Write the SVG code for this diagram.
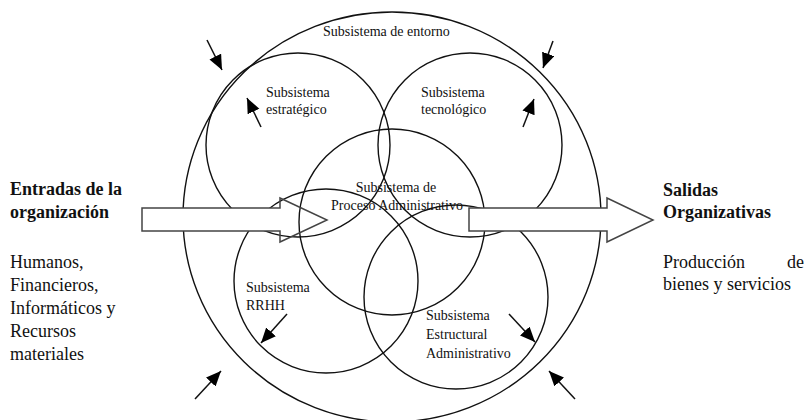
<svg xmlns="http://www.w3.org/2000/svg" width="805" height="420" viewBox="0 0 805 420">
<defs>
<style>
.c{fill:none;stroke:#111;stroke-width:1.4}
.t{font-family:"Liberation Serif","Times New Roman",serif;font-size:14px;fill:#111}
.L{font-family:"Liberation Serif","Times New Roman",serif;font-size:18px;fill:#111}
.b{font-weight:bold}
.a{stroke:#111;stroke-width:1.5;fill:none;marker-end:url(#ah)}
.big{fill:none;stroke:#444;stroke-width:1.5}
</style>
<marker id="ah" markerUnits="userSpaceOnUse" markerWidth="16" markerHeight="14" refX="15" refY="6.5" orient="auto">
<path d="M0,0 L15,6.5 L0,13 z" fill="#000"/>
</marker>
</defs>
<rect width="805" height="420" fill="#fff"/>
<g id="entorno"><ellipse class="c" cx="392" cy="217" rx="209" ry="205"/><text class="t" x="323" y="36">Subsistema de entorno</text></g>
<g id="estrategico"><circle class="c" cx="298" cy="145" r="92"/><text class="t" x="266" y="97">Subsistema</text><text class="t" x="266" y="114">estratégico</text></g>
<g id="tecnologico"><circle class="c" cx="470" cy="145" r="92"/><text class="t" x="421" y="97">Subsistema</text><text class="t" x="421" y="114">tecnológico</text></g>
<g id="proceso"><circle class="c" cx="392" cy="222" r="93"/><text class="t" x="396" y="192" text-anchor="middle">Subsistema de</text><text class="t" x="397" y="210" text-anchor="middle">Proceso Administrativo</text></g>
<g id="rrhh"><circle class="c" cx="326" cy="281" r="92"/><text class="t" x="246" y="292">Subsistema</text><text class="t" x="246" y="310">RRHH</text></g>
<g id="estructural"><circle class="c" cx="456" cy="297" r="92"/><text class="t" x="426" y="320">Subsistema</text><text class="t" x="426" y="339">Estructural</text><text class="t" x="426" y="358">Administrativo</text></g>
<g id="connectors">
<rect x="142" y="208" width="139" height="23" fill="#fff"/>
<polygon class="big" points="142,208 280,208 280,198 327,220 280,242 280,231 142,231"/>
<rect x="469" y="208" width="139" height="23" fill="#fff"/>
<polygon class="big" points="469,208 607,208 607,198 653,220 607,242 607,231 469,231"/>
<line class="a" x1="207" y1="40" x2="222" y2="70"/>
<line class="a" x1="553" y1="41" x2="543" y2="68"/>
<line class="a" x1="261" y1="127" x2="247" y2="98"/>
<line class="a" x1="523" y1="127" x2="534" y2="99"/>
<line class="a" x1="287" y1="314" x2="261" y2="343"/>
<line class="a" x1="509" y1="314" x2="535" y2="342"/>
<line class="a" x1="195" y1="399" x2="221" y2="371"/>
<line class="a" x1="575" y1="399" x2="549" y2="371"/>
</g>
<g id="entradas">
<text class="L b" x="10" y="195">Entradas de la</text>
<text class="L b" x="10" y="218">organización</text>
<text class="L" x="10" y="268">Humanos,</text>
<text class="L" x="10" y="291">Financieros,</text>
<text class="L" x="10" y="314">Informáticos y</text>
<text class="L" x="10" y="337">Recursos</text>
<text class="L" x="10" y="360">materiales</text>
</g>
<g id="salidas">
<text class="L b" x="663" y="196">Salidas</text>
<text class="L b" x="663" y="218">Organizativas</text>
<text class="L" x="663" y="268">Producción</text>
<text class="L" x="804" y="268" text-anchor="end">de</text>
<text class="L" x="663" y="290">bienes y servicios</text>
</g>
</svg>
